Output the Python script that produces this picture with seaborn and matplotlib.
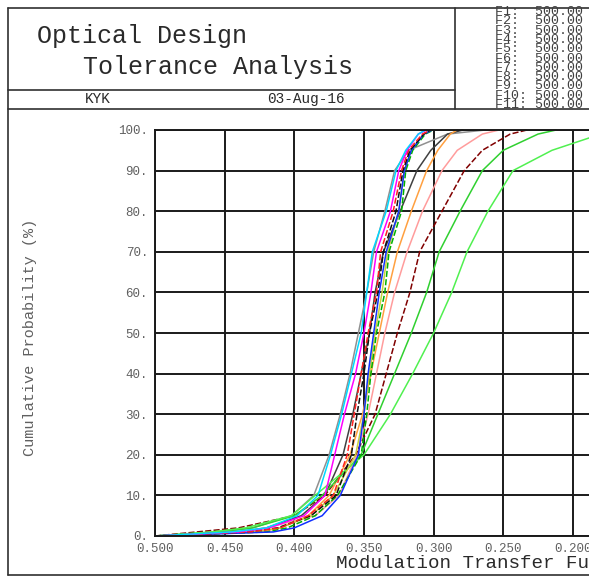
import numpy as np
import pandas as pd
import matplotlib
matplotlib.use("Agg")
import matplotlib.pyplot as plt
from matplotlib.lines import Line2D
import seaborn as sns

# cumulative probability levels (%) shared by every curve
PROB = [0, 1, 2, 5, 10, 20, 30, 40, 50, 60, 70, 80, 90, 95, 99, 100]

# MTF value reached at each probability level, one list per field / orientation
cyan = [0.500, 0.445, 0.420, 0.398, 0.383, 0.374, 0.366, 0.359, 0.352, 0.348, 0.344, 0.334, 0.327, 0.320, 0.311, 0.306]
magenta = [0.500, 0.440, 0.418, 0.393, 0.378, 0.371, 0.364, 0.356, 0.350, 0.345, 0.341, 0.331, 0.325, 0.319, 0.311, 0.305]
red = [0.500, 0.432, 0.410, 0.390, 0.372, 0.362, 0.357, 0.352, 0.347, 0.341, 0.338, 0.329, 0.323, 0.318, 0.308, 0.302]
black_dash = [0.500, 0.435, 0.412, 0.388, 0.370, 0.359, 0.355, 0.350, 0.346, 0.340, 0.336, 0.327, 0.322, 0.317, 0.307, 0.302]
blue = [0.500, 0.415, 0.400, 0.380, 0.367, 0.354, 0.350, 0.347, 0.343, 0.339, 0.334, 0.325, 0.321, 0.316, 0.307, 0.301]
green = [0.500, 0.420, 0.405, 0.385, 0.369, 0.352, 0.348, 0.345, 0.341, 0.335, 0.332, 0.323, 0.320, 0.315, 0.306, 0.300]
yellow = [0.500, 0.430, 0.410, 0.388, 0.372, 0.356, 0.350, 0.346, 0.342, 0.337, 0.333, 0.325, 0.321, 0.316, 0.307, 0.302]
grey = [0.500, 0.450, 0.430, 0.402, 0.386, 0.375, 0.367, 0.360, 0.354, 0.348, 0.343, 0.335, 0.328, 0.318, 0.290, 0.263]
black = [0.500, 0.440, 0.420, 0.395, 0.378, 0.365, 0.358, 0.352, 0.346, 0.342, 0.336, 0.324, 0.312, 0.302, 0.290, 0.279]
orange = [0.500, 0.425, 0.410, 0.390, 0.375, 0.360, 0.351, 0.345, 0.339, 0.333, 0.326, 0.316, 0.305, 0.297, 0.288, 0.283]
pink = [0.500, 0.440, 0.420, 0.385, 0.368, 0.355, 0.347, 0.341, 0.335, 0.328, 0.319, 0.308, 0.294, 0.283, 0.265, 0.253]
brown = [0.500, 0.470, 0.440, 0.400, 0.378, 0.356, 0.342, 0.334, 0.326, 0.317, 0.310, 0.294, 0.278, 0.265, 0.245, 0.233]
green1 = [0.500, 0.455, 0.430, 0.400, 0.380, 0.352, 0.340, 0.328, 0.316, 0.305, 0.296, 0.281, 0.265, 0.250, 0.225, 0.212]
green2 = [0.500, 0.460, 0.435, 0.402, 0.385, 0.350, 0.331, 0.315, 0.300, 0.287, 0.276, 0.261, 0.243, 0.215, 0.180, 0.160]

curves = {
    "grey": grey, "black": black, "orange": orange, "pink": pink,
    "brown": brown, "green1": green1, "green2": green2, "yellow": yellow,
    "green": green, "blue": blue, "black_dash": black_dash, "red": red,
    "magenta": magenta, "cyan": cyan,
}
colors = {
    "cyan": "#00d8ff", "magenta": "#ff00ff", "red": "#ff2020", "black_dash": "#101010",
    "blue": "#1030ff", "green": "#00b000", "yellow": "#c8d040", "grey": "#909090",
    "black": "#404040", "orange": "#ffa040", "pink": "#ff9c9c", "brown": "#800000",
    "green1": "#30d030", "green2": "#50f050",
}
dashed = ["red", "black_dash", "green", "brown"]

Y_TICKS = [0, 10, 20, 30, 40, 50, 60, 70, 80, 90, 100]
X_TICKS = [0.500, 0.450, 0.400, 0.350, 0.300, 0.250, 0.200]
F_LABELS = [f"F{i}:".ljust(5) + "500.00" for i in range(1, 12)]

W, H = 589, 577
FONT = "Liberation Mono"
INK = "#2a2a2a"


def px(x, y):
    # pixel position -> figure fraction
    return x / W, 1 - y / H


def main():
    sns.set_style("white")
    plt.rcParams["font.family"] = [FONT, "DejaVu Sans"]

    rows = []
    for name, vals in curves.items():
        for p, v in zip(PROB, vals):
            rows.append({"curve": name, "mtf": v, "prob": p})
    df = pd.DataFrame(rows)

    fig = plt.figure(figsize=(W / 100, H / 100), dpi=100)
    fig.patch.set_facecolor("white")

    # plot area: 0.500 at x=155, 0% at y=536, 100% at y=130, right edge cut by the page
    left, top = px(155, 130)
    _, bottom = px(155, 536)
    ax = fig.add_axes([left, bottom, 1 - left, top - bottom])

    sns.lineplot(data=df, x="mtf", y="prob", hue="curve", style="curve",
                 palette=colors,
                 dashes={k: ((4, 1.5) if k in dashed else "") for k in curves},
                 estimator=None, sort=False, linewidth=1.1, legend=False, ax=ax)
    for ln in ax.lines:
        ln.set_clip_on(False)

    ax.set_xlim(0.5, 0.5 - (W - 155) / 1393)
    ax.set_ylim(0, 100)
    ax.set_xticks(X_TICKS)
    ax.set_xticklabels([f"{t:.3f}" for t in X_TICKS])
    ax.set_yticks(Y_TICKS)
    ax.set_yticklabels([f"{t}." for t in Y_TICKS])
    ax.tick_params(axis="both", length=3, width=1, color=INK, labelcolor="#606060",
                   labelsize=9, pad=2)
    ax.grid(True, color="#1a1a1a", linewidth=1.4)
    ax.set_axisbelow(True)
    for s in ["left", "top", "bottom"]:
        ax.spines[s].set_color("#1a1a1a")
        ax.spines[s].set_linewidth(1.4)
    ax.spines["right"].set_visible(False)
    ax.set_xlabel("")
    ax.set_ylabel("")

    # axis titles (the page cuts the x title, as in the print)
    fig.text(*px(336, 563), "Modulation Transfer Function", fontsize=13.8,
             color=INK, ha="left", va="center")
    fig.text(*px(30, 337), "Cumulative Probability (%)", fontsize=11,
             color="#606060", rotation=90, ha="center", va="center")

    # page frame and title block
    frame = [
        ((8, 8), (W, 8)), ((8, 8), (8, 575)), ((8, 575), (W, 575)),
        ((8, 109), (W, 109)), ((8, 90), (455, 90)), ((455, 8), (455, 109)),
    ]
    for (x0, y0), (x1, y1) in frame:
        a, b = px(x0, y0)
        c, d = px(x1, y1)
        fig.add_artist(Line2D([a, c], [b, d], transform=fig.transFigure,
                              color="#303030", linewidth=1.2))

    fig.text(*px(37, 36), "Optical Design", fontsize=18, color=INK, ha="left", va="center")
    fig.text(*px(83, 67), "Tolerance Analysis", fontsize=18, color=INK, ha="left", va="center")
    fig.text(*px(98, 99), "KYK", fontsize=10.4, color=INK, ha="center", va="center")
    fig.text(*px(306, 99), "03-Aug-16", fontsize=10.4, color=INK, ha="center", va="center")
    # field list is printed as one tight column
    fig.text(*px(495, 6), "\n".join(F_LABELS), fontsize=9.6, color="#404040",
             ha="left", va="top", linespacing=0.7)

    fig.savefig("out.png", dpi=100)


if __name__ == "__main__":
    main()
